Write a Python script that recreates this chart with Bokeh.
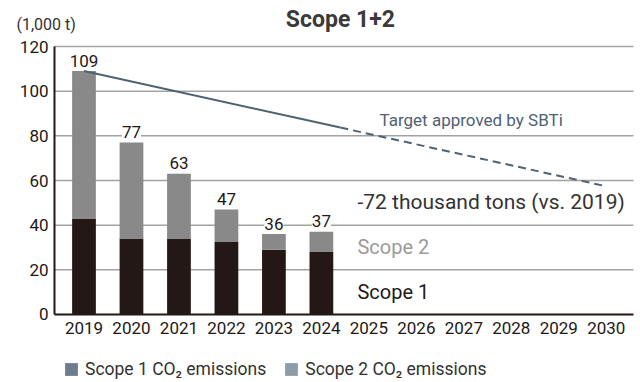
from bokeh.plotting import figure
from bokeh.models import (Range1d, FixedTicker, Label, LabelSet, ColumnDataSource,
                          Legend, LegendItem)
from bokeh.core.properties import value
from bokeh.embed import file_html
from bokeh.resources import INLINE

# ---- data ----
years = [2019, 2020, 2021, 2022, 2023, 2024]
scope1 = [43, 34, 34, 32.5, 29, 28]
totals = [109, 77, 63, 47, 36, 37]
scope2 = [t - s for t, s in zip(totals, scope1)]
axis_years = [2019, 2020, 2021, 2022, 2023, 2024, 2025, 2026, 2027, 2028, 2029, 2030]
y_ticks = [0, 20, 40, 60, 80, 100, 120]
target_solid_x = [2019, 2024.4]
target_solid_y = [109, 83.7]
target_dash_x = [2024.4, 2030]
target_dash_y = [83.7, 57.4]

FONT = "Roboto"
C_S1 = "#231815"
C_S2 = "#898989"
C_LINE = "#4f6173"
C_TXT = "#333333"

# plot-area extents (data units)
X_LEFT, X_RIGHT = 2018.379, 2030.573

p = figure(width=640, height=382,
           x_range=Range1d(2017.2414, 2030.721), y_range=Range1d(-30.45, 140.6),
           output_backend="svg", toolbar_location=None, min_border=0)
p.outline_line_color = None
p.background_fill_color = "white"
p.border_fill_color = "white"
p.xgrid.visible = False
p.ygrid.visible = False

# axes fixed at the plot-area edges
p.xaxis.fixed_location = 0
p.yaxis.fixed_location = X_LEFT
p.xaxis.bounds = (X_LEFT, X_RIGHT)
p.yaxis.bounds = (0, 120)
p.yaxis.ticker = FixedTicker(ticks=y_ticks)
p.xaxis.ticker = FixedTicker(ticks=axis_years)
p.xaxis.major_label_overrides = {y: str(y) for y in axis_years}
for ax in (p.xaxis, p.yaxis):
    ax.axis_line_color = C_S1
    ax.axis_line_width = 2
    ax.major_tick_line_color = None
    ax.minor_tick_line_color = None
    ax.major_tick_out = 0
    ax.major_tick_in = 0
    ax.minor_tick_out = 0
    ax.major_label_text_font = FONT
    ax.major_label_text_font_size = "17px"
    ax.major_label_text_color = "#231815"
p.xaxis.major_label_standoff = 8
p.yaxis.major_label_standoff = 6

# horizontal gridlines
grid_y = y_ticks[1:]
p.segment(x0=[X_LEFT] * len(grid_y), x1=[X_RIGHT] * len(grid_y), y0=grid_y, y1=grid_y,
          line_color="#a3a3a3", line_width=1.5)

src = ColumnDataSource(dict(x=years, s1=scope1, tot=totals, s2=scope2,
                            lab=[str(t) for t in totals]))
p.vbar(x="x", bottom=0, top="s1", width=0.5, source=src,
       fill_color=C_S1, line_color=None)
p.vbar(x="x", bottom="s1", top="tot", width=0.5, source=src,
       fill_color=C_S2, line_color=None)

p.line(target_solid_x, target_solid_y, line_color=C_LINE, line_width=2)
p.line(target_dash_x, target_dash_y, line_color=C_LINE, line_width=2, line_dash="8 5")

labels = LabelSet(x="x", y="tot", text="lab", source=src, text_align="center",
                  text_baseline="alphabetic", y_offset=4.5, text_font=value(FONT),
                  text_font_size=value("17px"), text_color="#231815",
                  background_fill_color="white", background_fill_alpha=1.0)
p.add_layout(labels)

def lab(x, y, text, size, color, style="normal", align="left"):
    p.add_layout(Label(x=x, y=y, text=text, text_font=FONT, text_font_size=size,
                       text_color=color, text_font_style=style, text_align=align,
                       text_baseline="middle"))

lab(2024.40, 131.87, "Scope 1+2", "23px", "#3a3a3a", style="bold", align="center")
lab(2017.578, 129.85, "(1,000 t)", "16px", C_TXT)
lab(2025.224, 86.87, "Target approved by SBTi", "17px", C_LINE)
lab(2024.760, 50.28, "-72 thousand tons (vs. 2019)", "21px", C_TXT)
lab(2024.760, 30.0, "Scope 2", "20px", "#9a9a9a")
lab(2024.760, 9.85, "Scope 1", "20px", C_S1)

# legend proxies: zero-height bars (invisible), used only for their legend swatches
r1 = p.vbar(x=[years[0]], top=[0], bottom=[0], width=0.5,
            fill_color="#6d7d8d", line_color=None)
r2 = p.vbar(x=[years[0]], top=[0], bottom=[0], width=0.5,
            fill_color="#8d9cab", line_color=None)
legend = Legend(items=[LegendItem(label="Scope 1 CO₂ emissions", renderers=[r1]),
                       LegendItem(label="Scope 2 CO₂ emissions", renderers=[r2])],
                orientation="horizontal", location=(63, 3),
                padding=0, margin=0, spacing=17, label_standoff=6,
                glyph_width=16, glyph_height=16, label_height=16,
                label_text_font=FONT, label_text_font_size="17.5px",
                label_text_color=C_TXT,
                border_line_color=None, background_fill_alpha=0)
p.add_layout(legend)

open("out.html", "w").write(file_html(p, INLINE))
